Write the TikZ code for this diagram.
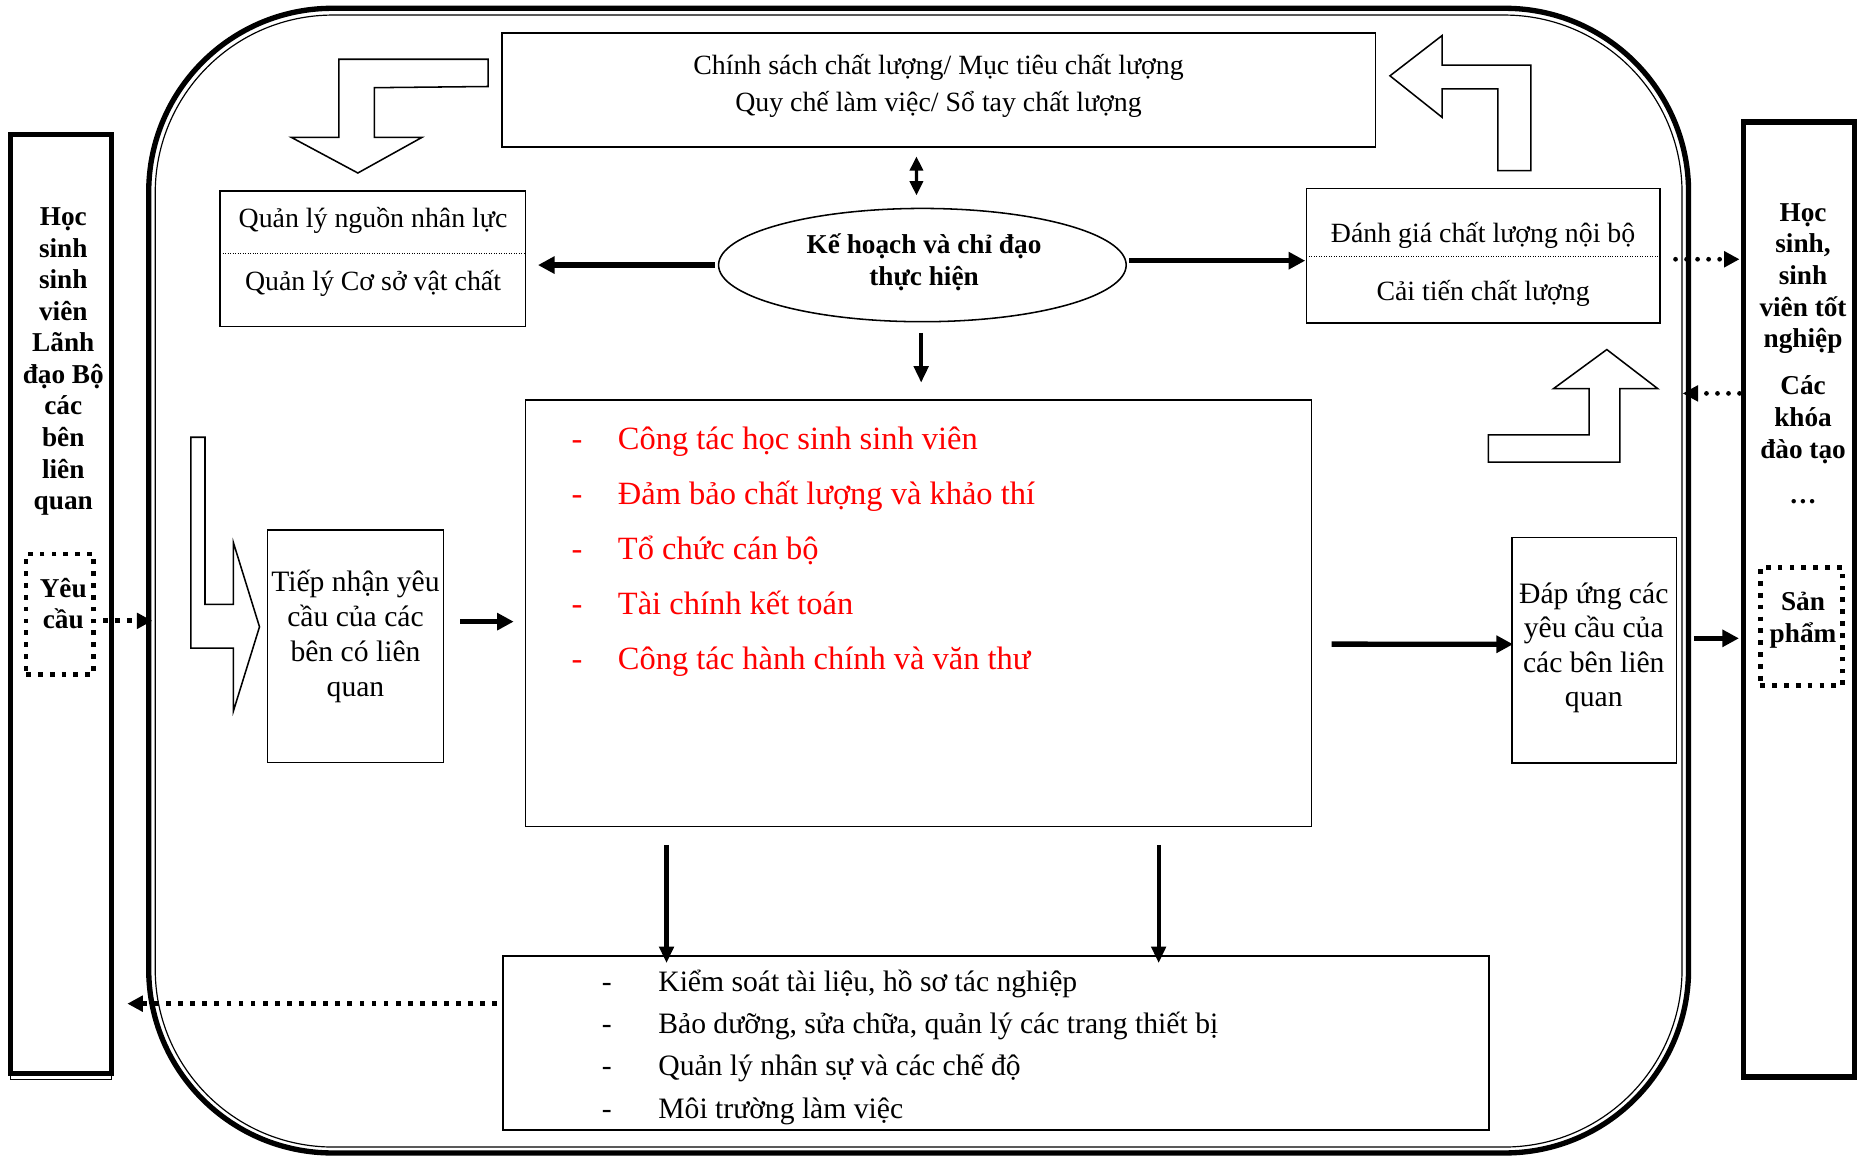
\documentclass[tikz,border=0pt]{standalone}
\usepackage{fontspec}
\setmainfont{Liberation Serif}
\usetikzlibrary{arrows.meta,shapes.geometric,calc}
\newcommand\fntA{\fontsize{23.5}{28}\selectfont}
\newcommand\fntB{\fontsize{23}{27}\selectfont\bfseries}
\newcommand\fntC{\fontsize{25}{29}\selectfont}
\newcommand\fntD{\fontsize{27.4}{32}\selectfont}
\begin{document}
\begin{tikzpicture}[x=1pt,y=-1pt,
  box/.style={draw, line width=1.3pt, inner sep=0pt, outer sep=0pt},
  sidebox/.style={draw, line width=4.5pt, inner sep=0pt, outer sep=0pt},
  dotbox/.style={draw, line width=4pt, dash pattern=on 4pt off 6pt, inner sep=0pt, outer sep=0pt},
  lbl/.style={inner sep=0pt, outer sep=0pt, anchor=base},
  lblw/.style={inner sep=0pt, outer sep=0pt, anchor=base west},
  blockarrow/.style={draw, line width=1.3pt, fill=white, line join=miter},
  thickarrow/.style={line width=4.5pt, -{Triangle[length=14pt,width=14pt]}},
  midarrow/.style={line width=3.5pt, -{Triangle[length=14pt,width=12pt]}},
  dblarrow/.style={line width=2.8pt, {Triangle[length=12pt,width=11pt]}-{Triangle[length=12pt,width=11pt]}},
  sqdots/.style={line width=4pt, dash pattern=on 4pt off 6pt, -{Triangle[length=13pt,width=13pt]}},
  rdots/.style={line width=4pt, line cap=round, dash pattern=on 0pt off 9.3pt, -{Triangle[length=13pt,width=13pt]}},
  sepline/.style={line width=0.7pt, dash pattern=on 0.7pt off 1.4pt}]
\useasboundingbox (0,0) rectangle (1568,976);

% outer frame (double line)
\node[draw, line width=4.5pt, rounded corners=155pt, minimum width=1299.5pt, minimum height=966pt, inner sep=0pt, outer sep=0pt] (frame) at (775.25,490) {};
\node[draw, line width=1pt, rounded corners=150pt, minimum width=1288.5pt, minimum height=955.3pt, inner sep=0pt, outer sep=0pt] (frameinner) at (775.25,490.35) {};

% side boxes
\node[sidebox, minimum width=85pt, minimum height=792.5pt] (lbox) at (51.5,509.75) {};
\draw[line width=0.9pt] (lbox.south west) -- ++(0,5) -| (lbox.south east);
\node[sidebox, minimum width=93.5pt, minimum height=806pt] (rbox) at (1518.25,506) {};
\node[dotbox, minimum width=57pt, minimum height=101.5pt] (yeu) at (50.5,518.25) {};
\node[dotbox, minimum width=69.5pt, minimum height=99.7pt] (san) at (1520.25,528.85) {};

\foreach \t [count=\i from 0] in {Học, sinh, sinh, viên, Lãnh, đạo Bộ, các, bên, liên, quan}
  \node[lbl, font=\fntB] (lt\i) at (53.4,190.6+26.6*\i) {\t};
\node[lbl, font=\fntB] (yeu1) at (53.4,504.1) {Yêu};
\node[lbl, font=\fntB] (yeu2) at (53.4,530.8) {cầu};

\foreach \t [count=\i from 0] in {Học, {sinh,}, sinh, viên tốt, nghiệp}
  \node[lbl, font=\fntB] (rt\i) at (1521.6,186.6+26.7*\i) {\t};
\foreach \t [count=\i from 0] in {Các, khóa, đào tạo}
  \node[lbl, font=\fntB] (rk\i) at (1521.6,332.6+27*\i) {\t};
\node[lbl, font=\fntB] (rdots) at (1521.6,424.7) {…};
\node[lbl, font=\fntB] (san1) at (1521.6,515.4) {Sản};
\node[lbl, font=\fntB] (san2) at (1521.6,542.1) {phẩm};

% boxes
\node[box, minimum width=737pt, minimum height=96pt] (pol) at (792.3,76) {};
\node[lbl, font=\fntA] (pol1) at (792,62.8) {Chính sách chất lượng/ Mục tiêu chất lượng};
\node[lbl, font=\fntA] (pol2) at (792,93.8) {Quy chế làm việc/ Sổ tay chất lượng};

\node[box, minimum width=257.8pt, minimum height=114.7pt] (qly) at (314.7,218.35) {};
\draw[sepline] ($(qly.west)+(0,-4.65)$) -- ($(qly.east)+(0,-4.65)$);
\node[lbl, font=\fntA] (qly1) at (314.8,191.8) {Quản lý nguồn nhân lực};
\node[lbl, font=\fntA] (qly2) at (314.8,245.5) {Quản lý Cơ sở vật chất};

\node[box, minimum width=298.2pt, minimum height=113.8pt] (dgia) at (1251.6,215.9) {};
\draw[sepline] ($(dgia.west)+(0,0.7)$) -- ($(dgia.east)+(0,0.7)$);
\node[lbl, font=\fntA] (dgia1) at (1251.6,204.7) {Đánh giá chất lượng nội bộ};
\node[lbl, font=\fntA] (dgia2) at (1251.6,253.8) {Cải tiến chất lượng};

\node[draw, ellipse, line width=1.3pt, minimum width=344pt, minimum height=95.6pt, inner sep=0pt, outer sep=0pt] (ell) at (778.4,223.7) {};
\node[lbl, font=\fntB] (ell1) at (779.8,214.3) {Kế hoạch và chỉ đạo};
\node[lbl, font=\fntB] (ell2) at (779.8,241.1) {thực hiện};

\node[box, minimum width=148.5pt, minimum height=196pt] (tiep) at (300.05,545.3) {};
\foreach \t [count=\i from 0] in {Tiếp nhận yêu, cầu của các, bên có liên, quan}
  \node[lbl, font=\fntC] (tp\i) at (300,499.3+29.5*\i) {\t};

\node[box, minimum width=663.2pt, minimum height=360pt] (big) at (775.1,517.6) {};
\foreach \t [count=\i from 0] in {Công tác học sinh sinh viên, Đảm bảo chất lượng và khảo thí, Tổ chức cán bộ, Tài chính kết toán, Công tác hành chính và văn thư}{
  \node[lbl, font=\fntD, text=red] (bd\i) at (487,379+46.6*\i) {-};
  \node[lblw, font=\fntD, text=red] (bt\i) at (521.5,379+46.6*\i) {\t};
}

\node[box, minimum width=139.1pt, minimum height=190.4pt] (dap) at (1345.45,548.9) {};
\foreach \t [count=\i from 0] in {Đáp ứng các, yêu cầu của, các bên liên, quan}
  \node[lbl, font=\fntC] (dp\i) at (1345,509+29.1*\i) {\t};

\node[box, minimum width=832.3pt, minimum height=146.8pt] (bot) at (840.45,880.2) {};
\foreach \t [count=\i from 0] in {{Kiểm soát tài liệu, hồ sơ tác nghiệp}, {Bảo dưỡng, sửa chữa, quản lý các trang thiết bị}, Quản lý nhân sự và các chế độ, Môi trường làm việc}{
  \node[lbl, font=\fntC] (bo\i) at (512,836.8+35.6*\i) {-};
  \node[lblw, font=\fntC] (bw\i) at (555.6,836.8+35.6*\i) {\t};
}

% block arrows
\draw[blockarrow] (412,50) -- (412,73) -- (316,74) -- (316,116) -- (356,116) -- (302,146) -- (246,116) -- (286,116) -- (286,50) -- cycle;
\draw[blockarrow] (1264,144) -- (1292,144) -- (1292,55) -- (1217,55) -- (1217,30) -- (1173,64) -- (1217,99) -- (1217,75) -- (1264,75) -- cycle;
\draw[blockarrow] (1356,295) -- (1399,328) -- (1367,328) -- (1367,390) -- (1256,390) -- (1256,367) -- (1341,367) -- (1341,328) -- (1311,328) -- cycle;
\draw[blockarrow] (161,369) -- (173,369) -- (173,510) -- (197,510) -- (197,458) -- (219,529) -- (197,600) -- (197,547) -- (161,547) -- cycle;

% connectors
\draw[dblarrow] ($(pol.south)+(-18.9,8)$) -- ($(ell.north)+(-5,-11)$);
\draw[thickarrow] ($(ell.west)+(-3,0)$) -- ($(ell.west -| qly.east)+(10.4,0)$);
\draw[thickarrow] ($(ell.east)+(2.5,-3.7)$) -- ($(ell.east -| dgia.west)+(-1,-3.7)$);
\draw[midarrow] ($(ell.south)+(-1,9.5)$) -- ($(ell.south |- big.north)+(-1,-14.6)$);
\draw[thickarrow] ($(tiep.east)+(14.3,-20.7)$) -- ($(big.west)+(-10,7)$);
\draw[thickarrow] ($(big.east)+(17,26)$) -- ($(dap.west)+(1,-5.2)$);
\draw[thickarrow] ($(dap.east)+(14.4,-10.2)$) -- ($(rbox.west |- dap.east)+(-4,-10.2)$);
\draw[midarrow] ($(big.south)+(-212.6,15.4)$) -- ($(big.south |- bot.north)+(-212.6,6)$);
\draw[midarrow] ($(big.south)+(202.7,15.4)$) -- ($(big.south |- bot.north)+(202.7,6)$);
\draw[sqdots] ($(yeu.east)+(8,5.7)$) -- ($(frame.west |- yeu.east)+(3,5.7)$);
\draw[sqdots, dash pattern=on 4pt off 6.2pt] ($(bot.west)+(-4.7,-33.2)$) -- ($(lbox.east |- bot.west)+(13.5,-33.2)$);
\draw[rdots] ($(frame.east |- dgia.east)+(-11,2.9)$) -- ($(rbox.west |- dgia.east)+(-3.5,2.9)$);
\draw[rdots] ($(rbox.west)+(-3.5,-174)$) -- ($(frame.east |- rbox.west)+(-5,-174)$);
\end{tikzpicture}
\end{document}
